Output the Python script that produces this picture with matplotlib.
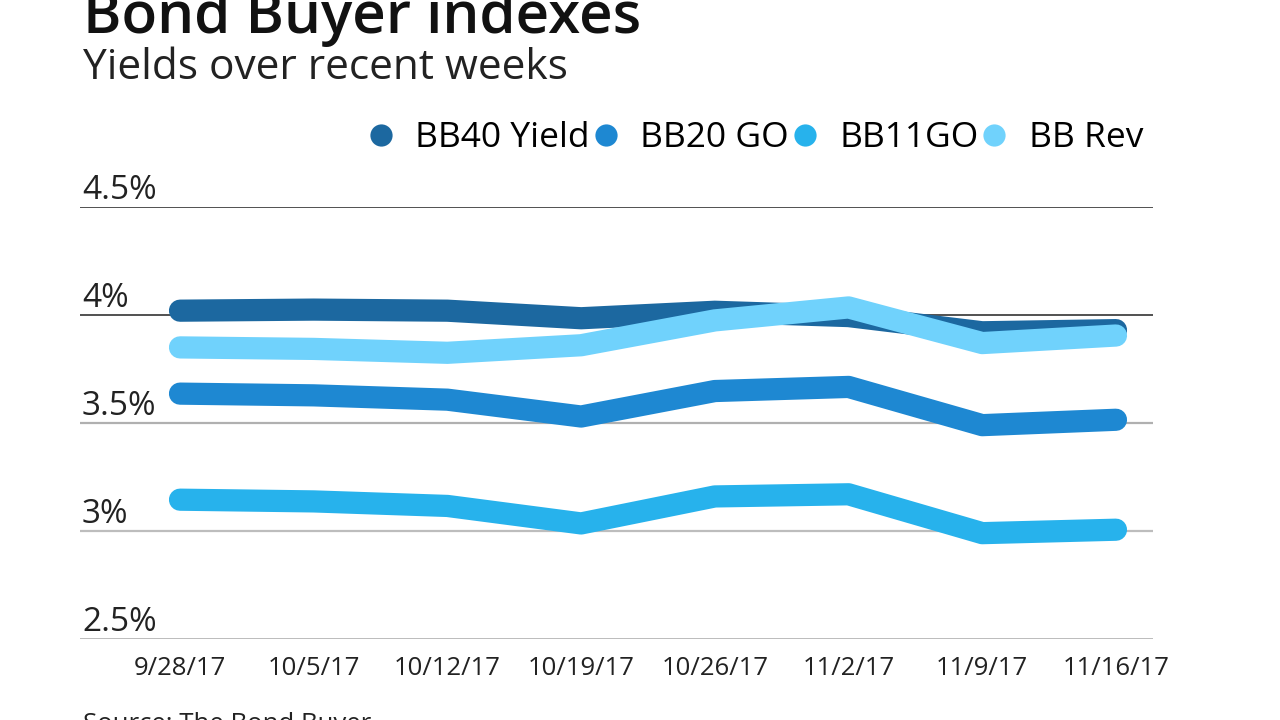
import matplotlib
matplotlib.use("Agg")
import matplotlib.pyplot as plt
from matplotlib.lines import Line2D

plt.rcParams['font.family'] = ['Open Sans', 'DejaVu Sans']

dates = ["9/28/17", "10/5/17", "10/12/17", "10/19/17", "10/26/17", "11/2/17", "11/9/17", "11/16/17"]
bb40_yield = [4.02, 4.025, 4.02, 3.985, 4.015, 3.995, 3.92, 3.93]
bb20_go = [3.636, 3.628, 3.608, 3.53, 3.648, 3.667, 3.49, 3.515]
bb11_go = [3.145, 3.137, 3.116, 3.035, 3.16, 3.17, 2.99, 3.006]
bb_rev = [3.85, 3.843, 3.825, 3.86, 3.975, 4.035, 3.87, 3.905]

series_names = ["BB40 Yield", "BB20 GO", "BB11GO", "BB Rev"]
series_values = [bb40_yield, bb20_go, bb11_go, bb_rev]
series_colors = ["#1c68a0", "#1e88d2", "#27b2ec", "#70d2fc"]

y_ticks = [2.5, 3.0, 3.5, 4.0, 4.5]
y_tick_labels = ["2.5%", "3%", "3.5%", "4%", "4.5%"]

fig = plt.figure(figsize=(12.8, 7.2), dpi=100)
ax = fig.add_axes([80/1280, 81/720, 1073/1280, 432/720])
x = list(range(len(dates)))
step = 133.71
ax.set_xlim(-100/step, 973/step)
ax.set_ylim(2.5, 4.5)

grid_styles = {2.5: ("#b5b5b5", 2.0), 3.0: ("#bdbdbd", 1.6), 3.5: ("#b0b0b0", 1.6),
               4.0: ("#222222", 1.1), 4.5: ("#222222", 1.1)}
for yv, lab in zip(y_ticks, y_tick_labels):
    c, lw = grid_styles[yv]
    ax.axhline(yv, color=c, lw=lw, zorder=1)
    ax.annotate(lab, xy=(0, yv), xycoords=('axes fraction', 'data'),
                xytext=(2, 8), textcoords='offset pixels',
                ha='left', va='baseline', fontsize=24, color='#222222')

for vals, col, name in zip(series_values, series_colors, series_names):
    ax.plot(x, vals, color=col, lw=16, solid_capstyle='round',
            solid_joinstyle='round', zorder=3, label=name, clip_on=False)

for s in ax.spines.values():
    s.set_visible(False)
ax.set_yticks([])
ax.set_xticks(x)
ax.set_xticklabels(dates, fontsize=18.5, color='#222222')
ax.tick_params(axis='x', length=0, pad=12)

handles = [Line2D([], [], ls='none', marker='o', markersize=16, color=c,
                  markeredgewidth=0) for c in series_colors]
fig.legend(handles, series_names, loc='center right', bbox_to_anchor=(1143/1280, (720-138)/720),
           ncol=4, frameon=False, fontsize=25.5, handlelength=0.5, handletextpad=0.72,
           columnspacing=0.2, borderaxespad=0, borderpad=0)

fig.text(83/1280, (720-33)/720, "Bond Buyer indexes", fontsize=42, fontweight='semibold',
         ha='left', va='baseline', color='#111111')
fig.text(83/1280, (720-79)/720, "Yields over recent weeks", fontsize=30.5,
         ha='left', va='baseline', color='#222222')
fig.text(83/1280, (720-731)/720, "Source: The Bond Buyer", fontsize=18.5,
         ha='left', va='baseline', color='#222222')

fig.savefig("out.png", dpi=100)
